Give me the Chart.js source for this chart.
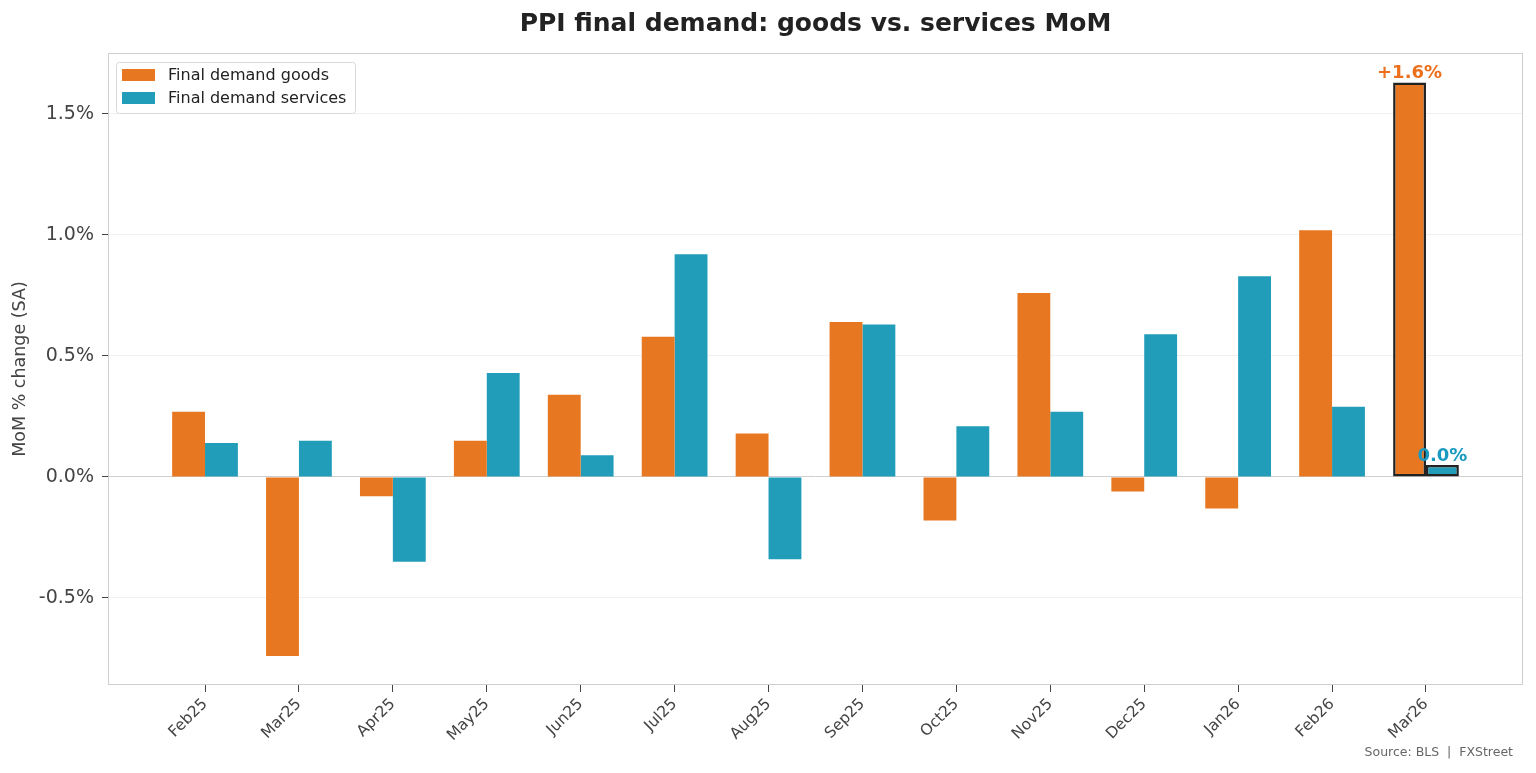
<!DOCTYPE html>
<html>
<head>
<meta charset="utf-8">
<script src="https://cdn.jsdelivr.net/npm/chart.js@4/dist/chart.umd.min.js"></script>
<style>
  html, body { margin: 0; padding: 0; background: #fff; }
  #wrap { width: 1536px; height: 773px; }
</style>
</head>
<body>
<div id="wrap"><canvas id="myChart" width="1536" height="773"></canvas></div>
<script>
// months on the x axis
const months = ["Feb25", "Mar25", "Apr25", "May25", "Jun25", "Jul25", "Aug25",
  "Sep25", "Oct25", "Nov25", "Dec25", "Jan26", "Feb26", "Mar26"];
// MoM % change, seasonally adjusted
const goods = [0.27, -0.74, -0.08, 0.15, 0.34, 0.58, 0.18, 0.64, -0.18, 0.76, -0.06, -0.13, 1.02, 1.63];
const services = [0.14, 0.15, -0.35, 0.43, 0.09, 0.92, -0.34, 0.63, 0.21, 0.27, 0.59, 0.83, 0.29, 0.05];
const yTicks = [-0.5, 0, 0.5, 1.0, 1.5];
const labelsLast = ["+1.6%", "0.0%"];

const orange = "rgb(232,119,34)";
const teal = "rgb(33,157,186)";
const font = "'DejaVu Sans', sans-serif";
const last = months.length - 1;

// title, plot frame, legend box, value labels and source note
const extras = {
  id: "extras",
  beforeDatasetsDraw(chart) {
    const { ctx, chartArea: a } = chart;
    ctx.save();
    ctx.strokeStyle = "#cfcfcf";
    ctx.lineWidth = 1;
    ctx.strokeRect(a.left + 0.5, a.top + 0.5, a.right - a.left - 1, a.bottom - a.top - 1);
    ctx.restore();
  },
  afterDraw(chart) {
    const { ctx, chartArea: a } = chart;
    ctx.save();
    // title
    ctx.fillStyle = "#222";
    ctx.font = "bold 25px " + font;
    ctx.textAlign = "center";
    ctx.textBaseline = "middle";
    ctx.fillText("PPI final demand: goods vs. services MoM", (a.left + a.right) / 2, 24);

    // legend
    const lx = 116, ly = 62, lw = 239, lh = 51;
    ctx.fillStyle = "rgba(255,255,255,0.9)";
    ctx.strokeStyle = "#d8d8d8";
    ctx.lineWidth = 1;
    ctx.beginPath();
    ctx.roundRect(lx + 0.5, ly + 0.5, lw, lh, 3);
    ctx.fill();
    ctx.stroke();
    ctx.font = "16px " + font;
    ctx.textAlign = "left";
    chart.data.datasets.forEach((ds, i) => {
      const y = ly + 13 + i * 23;
      ctx.fillStyle = ds.legendColor;
      ctx.fillRect(lx + 6, y - 6, 33, 12);
      ctx.fillStyle = "#222";
      ctx.fillText(ds.label, lx + 52, y + 1);
    });

    // value labels on the last pair
    ctx.font = "bold 18px " + font;
    ctx.textBaseline = "bottom";
    ctx.textAlign = "center";
    [0, 1].forEach(i => {
      const bar = chart.getDatasetMeta(i).data[last];
      ctx.fillStyle = i === 0 ? "rgb(236,112,28)" : "rgb(26,154,192)";
      ctx.fillText(labelsLast[i], bar.x, bar.y);
    });

    // source
    ctx.font = "12.5px " + font;
    ctx.fillStyle = "#666";
    ctx.textAlign = "right";
    ctx.textBaseline = "middle";
    ctx.fillText("Source: BLS  |  FXStreet", 1513, 753);
    ctx.restore();
  }
};

function barDataset(label, values, color) {
  return {
    label: label,
    legendColor: color,
    data: values.map((v, i) => ({ x: i, y: v })),
    backgroundColor: color,
    borderColor: ctx => ctx.dataIndex === last ? "#222" : color,
    borderWidth: ctx => ctx.dataIndex === last ? 2.5 : 0,
    borderSkipped: false,
    categoryPercentage: 0.7,
    barPercentage: 1.0
  };
}

new Chart(document.getElementById("myChart"), {
  type: "bar",
  data: {
    datasets: [
      barDataset("Final demand goods", goods, orange),
      barDataset("Final demand services", services, teal)
    ]
  },
  plugins: [extras],
  options: {
    responsive: false,
    animation: false,
    layout: { padding: { top: 53, right: 13, left: 0, bottom: 0 } },
    plugins: {
      legend: { display: false },
      tooltip: { enabled: false }
    },
    scales: {
      x: {
        type: "linear",
        offset: false,
        min: -1.033,
        max: months.length - 1 + 1.033,
        afterBuildTicks: s => { s.ticks = months.map((m, i) => ({ value: i })); },
        afterFit: s => { s.height = 88; },
        ticks: {
          autoSkip: false,
          maxRotation: 45,
          minRotation: 45,
          padding: 3,
          color: "#444",
          font: { family: font, size: 15.5 },
          callback: v => months[v]
        },
        grid: {
          offset: false,
          drawOnChartArea: false,
          drawTicks: true,
          tickLength: 7,
          tickColor: "#444"
        },
        border: { display: false }
      },
      y: {
        min: -0.8595,
        max: 1.752,
        afterBuildTicks: s => { s.ticks = yTicks.map(v => ({ value: v })); },
        afterFit: s => { s.width = 108; },
        ticks: {
          padding: 8,
          color: "#444",
          font: { family: font, size: 19 },
          callback: v => v.toFixed(1) + "%"
        },
        grid: {
          color: c => c.tick && c.tick.value === 0 ? "#cfcfcf" : "#f0f0f0",
          lineWidth: 1,
          drawTicks: true,
          tickLength: 6,
          tickColor: "#444"
        },
        border: { display: false },
        title: {
          display: true,
          text: "MoM % change (SA)",
          color: "#444",
          font: { family: font, size: 17.5 },
          padding: { top: 10, bottom: 4 }
        }
      }
    }
  }
});
</script>
</body>
</html>
